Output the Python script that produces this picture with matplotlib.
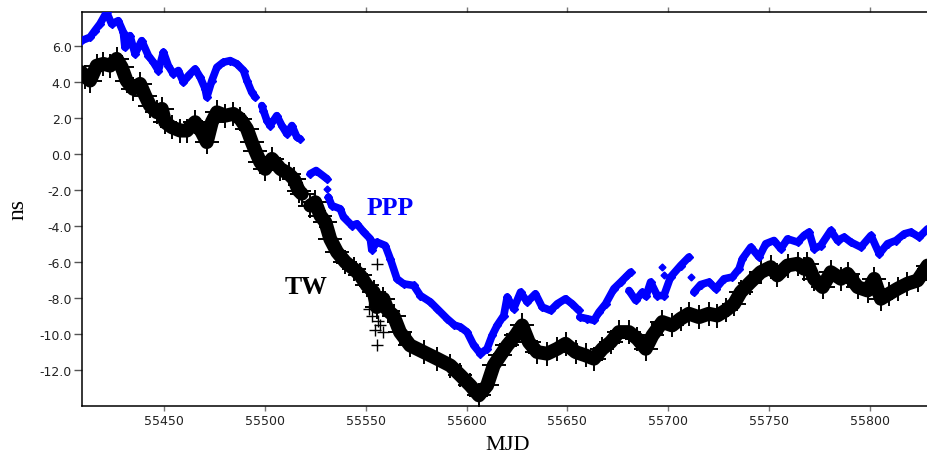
import numpy as np
import matplotlib
matplotlib.use("Agg")
import matplotlib.pyplot as plt

plt.rcParams['axes.unicode_minus'] = False

nan = np.nan
# PPP (blue) series, NaN marks data gaps
ppp_mjd = [55409.0, 55413.3, 55415.7, 55418.2, 55421.5, 55424.0, 55427.3, 55429.8, 55430.6, 55433.1,
           55435.6, 55438.9, 55442.2, 55444.7, 55447.2, 55449.7, 55452.1, 55454.6, 55457.1, 55459.6,
           55462.1, 55465.4, 55467.9, 55470.4, 55471.2, 55473.7, 55476.2, 55479.4, 55482.8, 55486.1,
           55489.4, 55491.1, 55493.5, 55495.2, nan,
           55498.5, 55499.3, 55501.0, 55502.6, 55505.9, 55508.4, 55510.9, 55513.4, 55515.9, 55517.5, nan,
           55522.5, 55525.4, 55530.8, nan,
           55531.5, 55533.2, 55537.4, 55539.0, 55543.2, 55545.6, 55549.0, 55552.3, 55553.0, 55555.6,
           55559.7, 55562.2, 55565.5, 55568.8, 55573.8, 55577.1, 55582.1, 55585.4, 55590.4, 55594.0,
           55597.0, 55600.3, 55603.6, 55606.9, 55610.2, 55612.7, 55615.2, 55618.5, 55620.2, 55623.4,
           55626.8, 55630.1, 55634.2, 55637.5, 55641.7, 55645.0, 55649.1, 55652.4, 55655.7, nan,
           55656.2, 55659.9, 55663.2, 55665.7, 55669.0, 55673.1, 55676.5, 55679.8, 55681.4, nan,
           55680.6, 55683.9, 55687.2, 55689.0, 55691.3, 55694.6, 55697.9, 55701.2, 55706.2, 55710.3, nan,
           55712.8, 55716.1, 55720.3, 55723.6, 55727.7, 55731.9, 55735.2, 55736.8, 55741.0, 55745.1,
           55748.4, 55752.5, 55755.9, 55759.2, 55764.2, 55767.4, 55769.9, 55772.4, 55775.7, 55780.7,
           55784.0, 55787.3, 55790.6, 55795.6, 55800.6, 55804.7, 55808.8, 55813.0, 55817.1, 55820.4,
           55824.5, 55828.7]
ppp_ns = [6.31, 6.50, 6.87, 7.24, 7.89, 7.24, 7.42, 6.78, 5.94, 6.59,
          5.57, 6.31, 5.48, 5.11, 4.65, 5.67, 4.92, 4.46, 4.65, 4.00,
          4.37, 4.74, 4.28, 3.63, 3.17, 4.09, 4.83, 5.11, 5.20, 5.02,
          4.65, 4.09, 3.44, 3.17, nan,
          2.70, 2.42, 1.87, 1.59, 2.14, 1.59, 1.13, 1.59, 0.94, 0.85, nan,
          -1.09, -0.91, -1.37, nan,
          -2.39, -2.86, -3.04, -3.50, -3.97, -3.87, -4.33, -4.71, -5.30, -4.89,
          -5.08, -5.82, -6.93, -7.21, -7.30, -7.86, -8.22, -8.59, -9.15, -9.50,
          -9.61, -9.89, -10.63, -11.09, -10.82, -10.08, -9.52, -8.97, -7.94, -8.59,
          -7.67, -8.22, -7.76, -8.50, -8.69, -8.32, -8.04, -8.32, -8.69, nan,
          -9.06, -9.15, -9.24, -8.78, -8.32, -7.48, -7.11, -6.74, -6.56, nan,
          -7.58, -8.13, -7.67, -7.90, -7.11, -7.86, -7.86, -6.83, -6.19, -5.72, nan,
          -7.67, -7.25, -7.11, -7.48, -6.93, -6.83, -6.37, -5.82, -5.17, -5.72,
          -4.98, -4.80, -5.26, -4.71, -4.89, -4.52, -4.33, -5.26, -5.08, -4.24,
          -4.80, -4.61, -4.89, -5.17, -4.52, -5.54, -4.98, -4.80, -4.43, -4.33,
          -4.61, -4.15]
# isolated PPP points
ppp_dot_mjd = [55531.0, 55697.1, 55697.9, 55711.3]
ppp_dot_ns = [-1.93, -6.28, -6.74, -6.83]

# TW (black) series
tw_mjd = [55409.0, 55411.0, 55413.3, 55416.6, 55419.9, 55423.3, 55426.5, 55429.0, 55431.4, 55434.7,
          55438.1, 55440.6, 55443.0, 55446.4, 55448.9, 55450.5, 55453.8, 55458.0, 55461.3, 55465.4,
          55468.7, 55471.2, 55473.7, 55476.2, 55480.4, 55484.4, 55487.8, 55491.1, 55493.5, 55495.2,
          55497.7, 55500.2, 55503.5, 55507.7, 55511.8, 55514.5, 55516.7, 55518.3, nan,
          55522.5, 55525.0,
          55527.5, 55530.0, 55532.4, 55535.8, 55539.9, 55544.0, 55547.3, 55550.6, 55554.0, 55555.5,
          55558.8, 55561.0, 55563.8, 55567.0, 55572.0, 55578.7, 55585.4, 55592.0, 55597.0, 55601.9,
          55606.1, 55610.2, 55613.5, 55616.8, 55620.2, 55624.3, 55627.6, 55630.9, 55635.0, 55640.0,
          55645.0, 55649.1, 55654.1, 55659.1, 55663.2, 55667.4, 55671.5, 55675.6, 55680.6, 55684.7,
          55688.9, 55692.2, 55697.1, 55702.0, 55706.2, 55710.3, 55715.3, 55720.2, 55724.4, 55728.5,
          55732.7, 55736.0, 55740.5, 55745.9, 55750.9, 55754.2, 55759.2, 55764.2, 55767.4, 55769.1,
          55772.4, 55776.6, 55780.7, 55785.7, 55789.0, 55794.0, 55798.9, 55802.2, 55805.5, 55809.6,
          55813.8, 55818.7, 55823.7, 55828.7]
tw_ns = [4.56, 4.30, 4.09, 4.92, 5.02, 4.92, 5.30, 4.83, 4.09, 3.63,
         3.91, 3.26, 2.70, 2.33, 2.52, 1.78, 1.50, 1.31, 1.31, 1.78,
         1.22, 0.67, 1.78, 2.33, 2.14, 2.24, 1.96, 1.41, 0.67, 0.20,
         -0.44, -0.82, -0.26, -0.82, -1.09, -1.40, -2.02, -2.20, nan,
         -2.86, -2.67,
         -3.41, -3.78, -4.71, -5.44, -6.00, -6.37, -6.74, -7.30, -7.67, -8.50,
         -8.04, -8.70, -8.97, -9.89, -10.63, -11.00, -11.37, -11.75, -12.30, -12.86,
         -13.41, -12.86, -11.74, -11.19, -10.63, -10.08, -9.52, -10.45, -11.00, -11.09,
         -10.82, -10.54, -11.00, -11.19, -11.37, -10.82, -10.45, -9.89, -9.89, -10.26,
         -10.82, -10.08, -9.33, -9.52, -9.15, -8.87, -9.06, -8.87, -8.97, -8.69,
         -8.32, -7.67, -7.15, -6.56, -6.28, -6.74, -6.19, -6.09, -6.37, -6.09,
         -6.93, -7.39, -6.56, -6.93, -6.65, -7.39, -7.58, -6.93, -8.04, -7.76,
         -7.48, -7.20, -7.02, -6.19]
# scattered TW points away from the main band
tw_out_mjd = [55553.2, 55555.4, 55555.6, 55554.5, 55557.0, 55556.0, 55551.5, 55558.5]
tw_out_ns = [-9.0, -6.1, -10.6, -9.8, -9.5, -9.3, -8.6, -9.9]

xticks = [55450, 55500, 55550, 55600, 55650, 55700, 55750, 55800]
yticks = [-12.0, -10.0, -8.0, -6.0, -4.0, -2.0, 0.0, 2.0, 4.0, 6.0]

fig = plt.figure(figsize=(9.28, 4.60), dpi=100)
ax = fig.add_axes([82/928, 1 - 407/460, 1 - 82/928 + 0.002, (407 - 12.7)/460])

# TW
ax.plot(tw_mjd, tw_ns, color='black', lw=10, solid_capstyle='round', solid_joinstyle='round', zorder=2)
ax.plot(tw_mjd, tw_ns, ls='none', marker='+', ms=17, mew=1.4, color='black', zorder=2)
ax.plot(tw_out_mjd, tw_out_ns, ls='none', marker='+', ms=8, mew=1.0, color='black', zorder=2)

# PPP
blue = '#0000ff'
ax.plot(ppp_mjd, ppp_ns, color=blue, lw=5.5, solid_capstyle='round', solid_joinstyle='round', zorder=3)
ax.plot(ppp_mjd, ppp_ns, ls='none', marker='D', ms=4.5, color=blue, zorder=3)
ax.plot(ppp_dot_mjd, ppp_dot_ns, ls='none', marker='D', ms=3.5, color=blue, zorder=3)

ax.set_xlim(55409.3, 55829.8)
ax.set_ylim(-14.0, 7.92)
ax.set_xticks(xticks)
ax.set_xticklabels([str(t) for t in xticks])
ax.set_yticks(yticks)
ax.set_yticklabels(['%.1f' % t for t in yticks])

ax.spines['right'].set_visible(False)
for s in ['left', 'top', 'bottom']:
    ax.spines[s].set_linewidth(1.1)
ax.tick_params(axis='y', direction='out', length=6, width=1, color='#555555', pad=1.5,
               labelsize=9, left=True)
ax.tick_params(axis='x', direction='out', length=3.5, width=1, color='#777777', pad=2,
               labelsize=9, top=True, bottom=True, labeltop=False)
for lab in ax.get_xticklabels() + ax.get_yticklabels():
    lab.set_family('DejaVu Sans')
    lab.set_color('#222222')

ax.text(55562.2, -2.98, 'PPP', color=blue, fontsize=18.5, fontweight='bold',
        family='Liberation Serif', ha='center', va='center')
ax.text(55520.5, -7.34, 'TW', color='black', fontsize=18.5, fontweight='bold',
        family='Liberation Serif', ha='center', va='center')

fig.text(18/928, 1 - 210/460, 'ns', rotation=90, fontsize=17, family='Liberation Serif',
         ha='center', va='center')
fig.text(508/928, 1 - 446/460, 'MJD', fontsize=16, family='Liberation Serif',
         ha='center', va='center')

fig.savefig('out.png', dpi=100)
